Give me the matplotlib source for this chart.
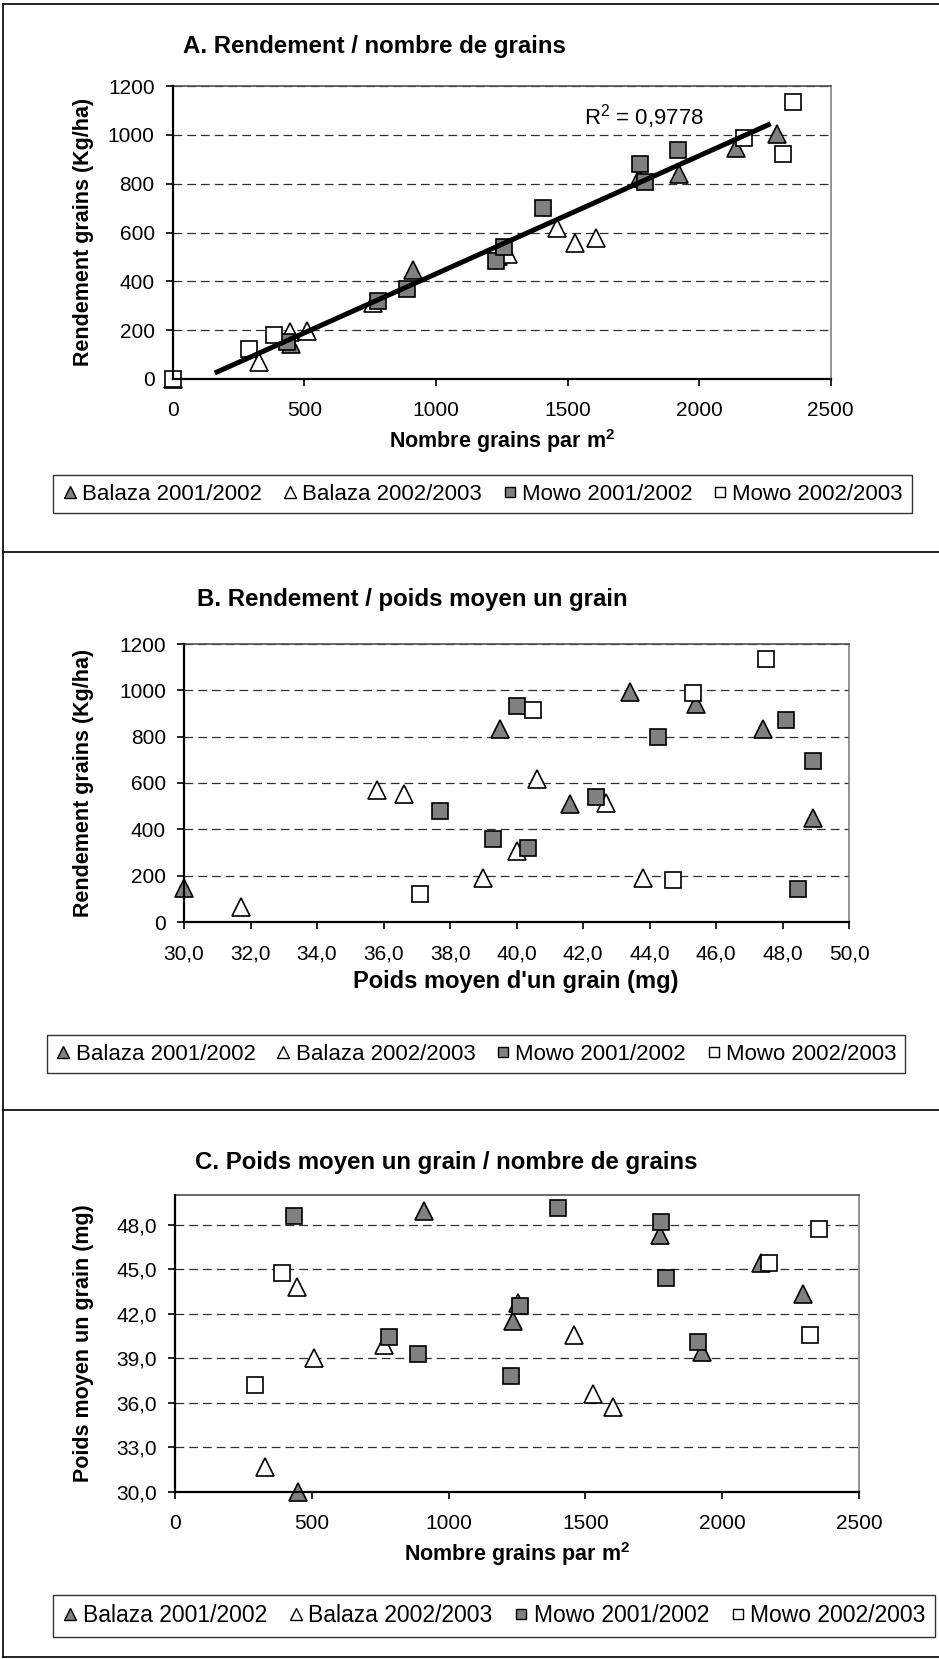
import numpy as np
import matplotlib.pyplot as plt
from matplotlib.lines import Line2D
from matplotlib.ticker import FuncFormatter

plt.rcParams['font.family'] = ['Liberation Sans', 'DejaVu Sans']
plt.rcParams['mathtext.fontset'] = 'custom'
plt.rcParams['mathtext.rm'] = 'Liberation Sans'
plt.rcParams['mathtext.bf'] = 'Liberation Sans:bold'

W, H = 939, 1659

series_names = ["Balaza 2001/2002", "Balaza 2002/2003", "Mowo 2001/2002", "Mowo 2002/2003"]

# A. rendement (kg/ha) vs nombre grains par m2
a_balaza01_n = [450, 912, 1235, 1770, 1922, 2140, 2295]
a_balaza01_y = [143, 447, 505, 825, 839, 945, 1005]
a_balaza02_n = [0, 328, 446, 509, 762, 1275, 1459, 1527, 1608]
a_balaza02_y = [0, 71, 194, 198, 310, 510, 617, 559, 579]
a_mowo01_n = [433, 781, 892, 1228, 1259, 1408, 1775, 1795, 1920]
a_mowo01_y = [150, 318, 367, 485, 540, 700, 881, 805, 939]
a_mowo02_n = [0, 291, 386, 2170, 2320, 2355]
a_mowo02_y = [0, 123, 180, 985, 922, 1135]
trend_x = [160, 2272]
r2_text = r"R$^2$ = 0,9778"

# B. rendement (kg/ha) vs poids moyen d'un grain (mg)
b_balaza01_w = [30.0, 39.5, 41.6, 43.4, 45.4, 47.4, 48.9]
b_balaza01_y = [145, 832, 509, 994, 941, 833, 447]
b_balaza02_w = [31.7, 35.8, 36.6, 39.0, 40.0, 40.6, 42.7, 43.8]
b_balaza02_y = [66, 570, 553, 188, 306, 616, 515, 188]
b_mowo01_w = [37.7, 39.3, 40.0, 40.35, 42.4, 44.25, 48.1, 48.9, 48.45]
b_mowo01_y = [481, 358, 932, 318, 538, 800, 872, 694, 141]
b_mowo02_w = [37.1, 40.5, 44.7, 45.3, 47.5]
b_mowo02_y = [119, 915, 181, 987, 1134]

# C. poids moyen d'un grain (mg) vs nombre grains par m2
c_balaza01_n = [451, 910, 1237, 1773, 1926, 2143, 2297]
c_balaza01_w = [30.0, 48.9, 41.5, 47.3, 39.4, 45.45, 43.3]
c_balaza02_n = [328, 445, 508, 765, 1255, 1460, 1526, 1602]
c_balaza02_w = [31.7, 43.8, 39.0, 39.9, 42.7, 40.6, 36.6, 35.7]
c_mowo01_n = [435, 783, 887, 1227, 1261, 1401, 1775, 1795, 1913]
c_mowo01_w = [48.6, 40.45, 39.3, 37.8, 42.5, 49.1, 48.2, 44.4, 40.1]
c_mowo02_n = [291, 390, 2172, 2320, 2354]
c_mowo02_w = [37.2, 44.75, 45.45, 40.6, 47.7]

styles = [
    dict(marker="^", mfc="#808080", ms=13),
    dict(marker="^", mfc="white", ms=13),
    dict(marker="s", mfc="#808080", ms=11.5),
    dict(marker="s", mfc="white", ms=11.5),
]

fig = plt.figure(figsize=(W / 100, H / 100), dpi=100)


def fx(px):
    return px / W


def fy(py):
    return 1 - py / H


def axes_px(x0, y0, x1, y1):
    return fig.add_axes([fx(x0), fy(y1), (x1 - x0) / W, (y1 - y0) / H])


def comma(v, pos):
    return "{:.1f}".format(v).replace(".", ",")


def style_axes(ax):
    for s in ["left", "bottom"]:
        ax.spines[s].set_color("black")
        ax.spines[s].set_linewidth(1.6)
        ax.spines[s].set_zorder(5)
    ax.spines["top"].set_color("#505050")
    ax.spines["right"].set_color("#808080")
    for s in ["top", "right"]:
        ax.spines[s].set_linewidth(1.2)
    ax.tick_params(direction="out", length=5, width=1.2, labelsize=15, colors="black")
    ax.tick_params(axis="x", pad=11)
    ax.tick_params(axis="y", pad=8)
    ax.yaxis.grid(True, linestyle=(0, (7, 4)), color="#303030", linewidth=0.9)
    ax.set_axisbelow(True)


def scatter_all(ax, xs, ys):
    for x, y, st in zip(xs, ys, styles):
        ax.plot(x, y, linestyle="none", mec="black", mew=1.2, clip_on=False, zorder=3, **st)


def add_legend(cx, cy, fs):
    handles = [Line2D([], [], linestyle="none", mec="black", mew=1.0,
                      marker=st["marker"], mfc=st["mfc"], ms=st["ms"] * 0.62) for st in styles]
    lg = fig.legend(handles, series_names, loc="center", bbox_to_anchor=(fx(cx), fy(cy)),
                    ncol=4, frameon=True, fancybox=False, edgecolor="black", fontsize=fs,
                    handlelength=0.7, handletextpad=0.2, columnspacing=0.9, borderpad=0.4)
    lg.get_frame().set_linewidth(1.0)


xlab_n = r"Nombre grains par m$^{\mathbf{2}}$"

# ---- Panel A
axA = axes_px(172.7, 86, 830.7, 379)
style_axes(axA)
scatter_all(axA, [a_balaza01_n, a_balaza02_n, a_mowo01_n, a_mowo02_n],
            [a_balaza01_y, a_balaza02_y, a_mowo01_y, a_mowo02_y])
# linear trend on the 2001/2002 season
fit_n = np.array(a_balaza01_n + a_mowo01_n)
fit_y = np.array(a_balaza01_y + a_mowo01_y)
slope, intercept = np.polyfit(fit_n, fit_y, 1)
tx = np.array(trend_x)
axA.plot(tx, slope * tx + intercept, color="black", lw=3.6, solid_capstyle="butt", zorder=4)
axA.text(1563, 1074, r2_text, fontsize=16, va="center", ha="left")
axA.set_xlim(0, 2500)
axA.set_ylim(0, 1200)
axA.set_xticks(np.arange(0, 2501, 500))
axA.set_yticks(np.arange(0, 1201, 200))

fig.text(fx(183), fy(47), "A. Rendement / nombre de grains", fontsize=17.3, weight="bold", va="center")
fig.text(fx(502), fy(441), xlab_n, fontsize=15.5, weight="bold", ha="center", va="center")
fig.text(fx(84), fy(232), "Rendement grains (Kg/ha)", fontsize=15.5, weight="bold", rotation=90,
         ha="center", va="center")
add_legend(482.5, 494, 16)

# ---- Panel B
axB = axes_px(184, 644, 849.3, 922)
style_axes(axB)
scatter_all(axB, [b_balaza01_w, b_balaza02_w, b_mowo01_w, b_mowo02_w],
            [b_balaza01_y, b_balaza02_y, b_mowo01_y, b_mowo02_y])
axB.set_xlim(30, 50)
axB.set_ylim(0, 1200)
axB.set_xticks(np.arange(30, 50.1, 2))
axB.set_yticks(np.arange(0, 1201, 200))
axB.xaxis.set_major_formatter(FuncFormatter(comma))

fig.text(fx(197), fy(599.5), "B. Rendement / poids moyen un grain", fontsize=17.3, weight="bold", va="center")
fig.text(fx(516), fy(982), "Poids moyen d'un grain (mg)", fontsize=17, weight="bold", ha="center", va="center")
fig.text(fx(84), fy(783), "Rendement grains (Kg/ha)", fontsize=15.5, weight="bold", rotation=90,
         ha="center", va="center")
add_legend(476, 1054, 16)

# ---- Panel C
axC = axes_px(175, 1195, 859, 1492)
style_axes(axC)
scatter_all(axC, [c_balaza01_n, c_balaza02_n, c_mowo01_n, c_mowo02_n],
            [c_balaza01_w, c_balaza02_w, c_mowo01_w, c_mowo02_w])
axC.set_xlim(0, 2500)
axC.set_ylim(30, 50)
axC.set_xticks(np.arange(0, 2501, 500))
axC.set_yticks(np.arange(30, 48.1, 3))
axC.yaxis.set_major_formatter(FuncFormatter(comma))

fig.text(fx(195), fy(1162), "C. Poids moyen un grain / nombre de grains", fontsize=17.3, weight="bold", va="center")
fig.text(fx(517), fy(1554), xlab_n, fontsize=15.5, weight="bold", ha="center", va="center")
fig.text(fx(84), fy(1343), "Poids moyen un grain (mg)", fontsize=15.5, weight="bold", rotation=90,
         ha="center", va="center")
add_legend(494, 1616, 16.5)

# ---- outer frame
for yy in [4, 552, 1110, 1657]:
    fig.add_artist(Line2D([fx(3), 1], [fy(yy), fy(yy)], color="black", lw=1.2))
fig.add_artist(Line2D([fx(3), fx(3)], [fy(4), fy(1657)], color="black", lw=1.2))

fig.savefig("out.png", dpi=100)
